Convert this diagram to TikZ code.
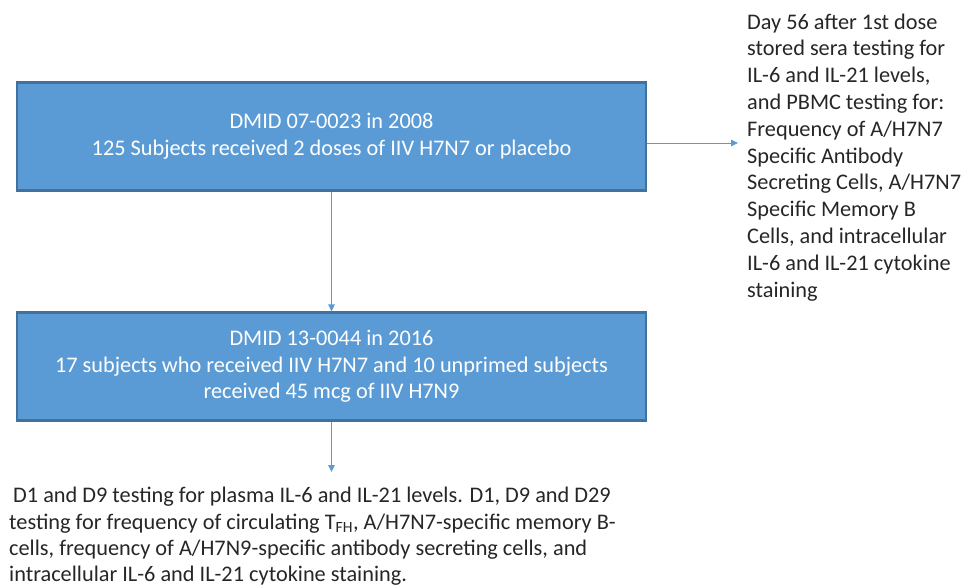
\documentclass[tikz,border=0pt]{standalone}
\usepackage{fontspec}
\setmainfont{Carlito}
\usetikzlibrary{arrows.meta}
\definecolor{boxfill}{HTML}{5B9BD5}
\definecolor{boxline}{HTML}{41719C}
\definecolor{txt}{HTML}{262626}
\begin{document}
\begin{tikzpicture}[x=1pt,y=-1pt,
  stagebox/.style={draw=boxline,line width=2.2pt,fill=boxfill,text=white,minimum width=629pt,minimum height=108pt,align=center,inner sep=0pt,font=\fontsize{22.3}{26.6}\selectfont},
  note/.style={anchor=north west,inner sep=0pt,align=left,text=txt,font=\fontsize{22.3}{26.4}\selectfont},
  rnote/.style={note,font=\fontsize{22.3}{26.8}\selectfont},
  conn/.style={draw=boxfill,line width=0.9pt,-{Triangle[width=6.5pt,length=7pt]}}]
\useasboundingbox (0,0) rectangle (961,587);
\node[stagebox] (b1) at (331.5,136.5) {DMID 07-0023 in 2008\\125 Subjects received 2 doses of IIV H7N7 or placebo};
\node[stagebox] (b2) at (331.5,366.5) {DMID 13-0044 in 2016\\17 subjects who received IIV H7N7 and 10 unprimed subjects\\received 45 mcg of IIV H7N9};
\node[rnote] (r) at (747,13.5) {Day 56 after 1st dose\\stored sera testing for\\IL-6 and IL-21 levels,\\and PBMC testing for:\\Frequency of A/H7N7\\Specific Antibody\\Secreting Cells, A/H7N7\\Specific Memory B\\Cells, and intracellular\\IL-6 and IL-21 cytokine\\staining};
\node[note] (bt) at (9,487) {\hspace*{4pt}D1 and D9 testing for plasma IL-6 and IL-21 levels. D1, D9 and D29\\testing for frequency of circulating T\textsubscript{FH}, A/H7N7-specific memory B-\\cells, frequency of A/H7N9-specific antibody secreting cells, and\\intracellular IL-6 and IL-21 cytokine staining.};
\coordinate (c1) at (738,143);
\coordinate (c2) at (331.5,472);
\draw[conn] (b1.south) -- (b2.north);
\draw[conn] (b1.east |- c1) -- (c1);
\draw[conn] (b2.south) -- (c2);
\end{tikzpicture}
\end{document}
